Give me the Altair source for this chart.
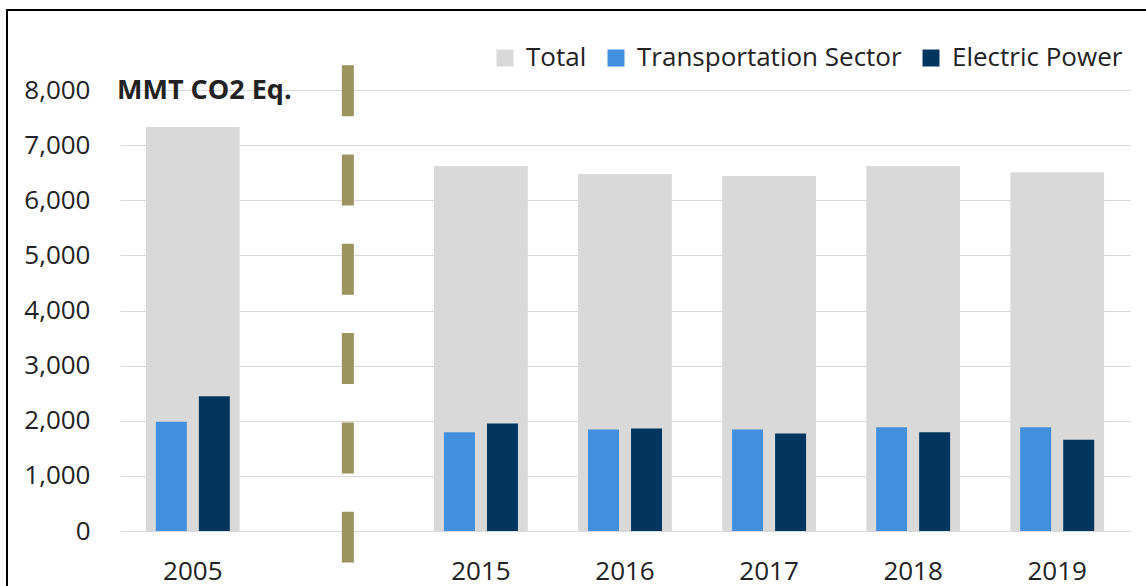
import altair as alt
import pandas as pd

years = ["2005", "2015", "2016", "2017", "2018", "2019"]
total = [7330, 6620, 6475, 6440, 6620, 6510]
transport = [1980, 1790, 1840, 1840, 1880, 1880]
electric = [2445, 1950, 1860, 1770, 1790, 1655]

x_domain = ["2005", "gap", "2015", "2016", "2017", "2018", "2019"]
series = ["Total", "Transportation Sector", "Electric Power"]
colors = ["#d9d9d9", "#418fde", "#03365f"]
y_ticks = [0, 1000, 2000, 3000, 4000, 5000, 6000, 7000, 8000]
unit_label = "MMT CO2 Eq."

FONT = "Open Sans"
TXT = "#222222"

tot_df = pd.DataFrame({"year": years, "value": total, "series": ["Total"] * len(years)})
sec_df = pd.DataFrame({
    "year": years * 2,
    "value": transport + electric,
    "series": ["Transportation Sector"] * len(years) + ["Electric Power"] * len(years),
})
divider_df = pd.DataFrame({"year": ["gap"], "value": [8450], "value2": [-570]})
dummy = pd.DataFrame({"a": [0]})

x_enc = alt.X(
    "year:N",
    scale=alt.Scale(domain=x_domain, paddingInner=0.349, paddingOuter=0.18),
    axis=alt.Axis(
        title=None, labelAngle=0, domain=False, ticks=False, grid=False,
        labelExpr="datum.value == 'gap' ? '' : datum.value",
        labelPadding=27, labelFontSize=26, labelFont=FONT, labelColor=TXT,
    ),
)
y_enc = alt.Y(
    "value:Q",
    scale=alt.Scale(domain=[0, 8000], nice=False, zero=True),
    axis=alt.Axis(
        title=None, values=y_ticks, format=",.0f", domain=False, ticks=False,
        grid=True, gridColor="#d9d9d9", gridWidth=1,
        labelPadding=30, labelFontSize=26, labelFont=FONT, labelColor=TXT,
    ),
)
color_enc = alt.Color(
    "series:N",
    scale=alt.Scale(domain=series, range=colors),
    legend=alt.Legend(
        title=None, orient="none", direction="horizontal",
        legendX=372, legendY=-45, padding=0,
        symbolType="square", symbolSize=289, symbolStrokeWidth=0,
        labelFontSize=26, labelFont=FONT, labelColor=TXT, labelLimit=500,
        labelOffset=8, columnPadding=16,
    ),
)

totals = alt.Chart(tot_df).mark_bar().encode(x=x_enc, y=y_enc, color=color_enc)

sectors = alt.Chart(sec_df).mark_bar().encode(
    x=x_enc,
    y=y_enc,
    color=color_enc,
    xOffset=alt.XOffset(
        "series:N",
        scale=alt.Scale(domain=["Transportation Sector", "Electric Power"],
                        paddingInner=0.28, paddingOuter=0.23),
    ),
)

divider = alt.Chart(divider_df).mark_rule(
    color="#9b945f", strokeWidth=12, strokeDash=[51, 38.3], strokeCap="butt"
).encode(
    x=alt.X("year:N", bandPosition=0.617),
    y=alt.Y("value:Q"),
    y2="value2:Q",
)

unit_text = alt.Chart(dummy).mark_text(
    text=unit_label, font=FONT, fontSize=27, fontWeight="bold", color=TXT,
    align="left", baseline="middle",
).encode(x=alt.value(-3), y=alt.value(1))

border = alt.Chart(dummy).mark_rect(
    fill=None, stroke="#000000", strokeWidth=2
).encode(x=alt.value(-113), x2=alt.value(1040), y=alt.value(-80), y2=alt.value(520))

chart = alt.layer(totals, sectors, divider, unit_text, border).properties(
    width=1010,
    height=441,
    padding={"left": 120, "top": 90, "right": 16, "bottom": 55},
    autosize="none",
    background="white",
).configure_view(stroke=None)

chart.save("out.html", embed_options={"renderer": "svg", "actions": False})
